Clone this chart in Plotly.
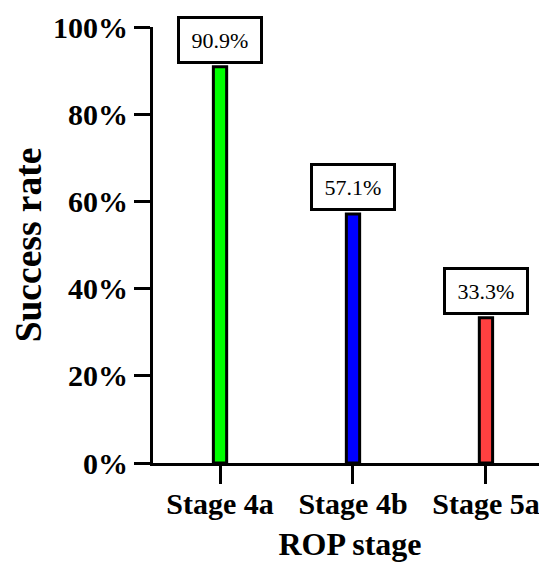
import plotly.graph_objects as go

categories = ["Stage 4a", "Stage 4b", "Stage 5a"]
success_rate = [0.909, 0.571, 0.333]
bar_colors = ["#00ff00", "#0000ff", "#ff4040"]
label_texts = ["90.9%", "57.1%", "33.3%"]
y_tickvals = [0, 0.2, 0.4, 0.6, 0.8, 1.0]
y_ticktext = ["0%", "20%", "40%", "60%", "80%", "100%"]

serif = "Liberation Serif, Times New Roman, serif"

fig = go.Figure()
fig.add_trace(go.Bar(
    x=categories, y=success_rate,
    marker=dict(color=bar_colors, line=dict(color="black", width=3)),
    width=0.1,
    showlegend=False,
))

for c, v, t in zip(categories, success_rate, label_texts):
    fig.add_annotation(
        x=c, y=v, text=t, showarrow=False,
        xref="x", yref="y", yanchor="bottom", yshift=3,
        font=dict(family=serif, size=22, color="black"),
        bordercolor="black", borderwidth=3, borderpad=8,
        bgcolor="white", width=64, height=26,
    )

# the page body adds an 8px margin, so the figure is sized to fit the window
fig.update_layout(
    width=539, height=554,
    margin=dict(l=145, r=0, t=19, b=99, autoexpand=False),
    plot_bgcolor="white", paper_bgcolor="white",
    font=dict(family=serif, color="black"),
    xaxis=dict(
        range=[-0.504, 2.459], automargin=False,
        showline=True, linecolor="black", linewidth=3,
        ticks="outside", ticklen=18, tickwidth=3, tickcolor="black",
        ticklabelstandoff=-6,
        tickfont=dict(family=serif, size=30, weight="bold"),
        title=dict(text="ROP stage", font=dict(family=serif, size=32, weight="bold"), standoff=17),
        showgrid=False, zeroline=False,
    ),
    yaxis=dict(
        range=[0, 1], automargin=False,
        tickvals=y_tickvals, ticktext=y_ticktext,
        showline=True, linecolor="black", linewidth=3,
        ticks="outside", ticklen=16, tickwidth=3, tickcolor="black",
        tickfont=dict(family=serif, size=30, weight="bold"),
        title=dict(text="Success rate", font=dict(family=serif, size=37.5, weight="bold"), standoff=13),
        showgrid=False, zeroline=False,
    ),
)

fig.write_html("out.html")
